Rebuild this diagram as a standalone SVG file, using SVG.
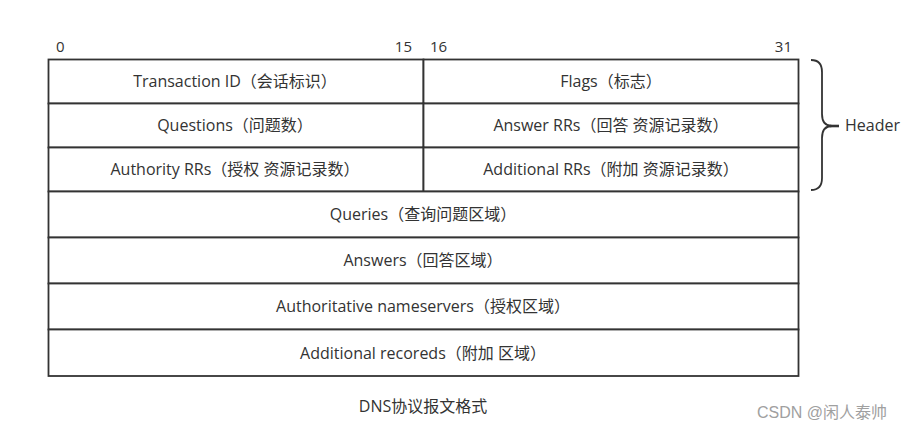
<svg xmlns="http://www.w3.org/2000/svg" width="922" height="431" viewBox="0 0 922 431">
<style>
.cell{fill:#fff;stroke:#333;stroke-width:1.8}
.t{font-family:"Open Sans","Noto Sans CJK SC",sans-serif;font-size:16px;fill:#333;text-anchor:middle}
.n{font-family:"Open Sans","Noto Sans CJK SC",sans-serif;font-size:15px;fill:#333}
.w{font-family:"Liberation Sans","Noto Sans CJK SC",sans-serif;font-size:16px;fill:#a0a0a0}
</style>
<rect width="922" height="431" fill="#fff"/>
<g id="bits">
<text class="n" x="56" y="52">0</text>
<text class="n" x="412" y="52" text-anchor="end">15</text>
<text class="n" x="430" y="52">16</text>
<text class="n" x="792" y="52" text-anchor="end">31</text>
</g>
<g id="transaction-id"><rect class="cell" x="48.5" y="59.5" width="375" height="44"/><text class="t" x="235" y="87">Transaction ID（会话标识）</text></g>
<g id="flags"><rect class="cell" x="423.5" y="59.5" width="375" height="44"/><text class="t" x="611" y="87">Flags（标志）</text></g>
<g id="questions"><rect class="cell" x="48.5" y="103.5" width="375" height="44"/><text class="t" x="235" y="131">Questions（问题数）</text></g>
<g id="answer-rrs"><rect class="cell" x="423.5" y="103.5" width="375" height="44"/><text class="t" x="611" y="131">Answer RRs（回答 资源记录数）</text></g>
<g id="authority-rrs"><rect class="cell" x="48.5" y="147.5" width="375" height="44"/><text class="t" x="235" y="175">Authority RRs（授权 资源记录数）</text></g>
<g id="additional-rrs"><rect class="cell" x="423.5" y="147.5" width="375" height="44"/><text class="t" x="611" y="175">Additional RRs（附加 资源记录数）</text></g>
<g id="queries"><rect class="cell" x="48.5" y="191.5" width="750" height="46"/><text class="t" x="423" y="220">Queries（查询问题区域）</text></g>
<g id="answers"><rect class="cell" x="48.5" y="237.5" width="750" height="46"/><text class="t" x="423" y="266">Answers（回答区域）</text></g>
<g id="authoritative"><rect class="cell" x="48.5" y="283.5" width="750" height="46"/><text class="t" x="423" y="312">Authoritative nameservers（授权区域）</text></g>
<g id="additional"><rect class="cell" x="48.5" y="329.5" width="750" height="46.5"/><text class="t" x="423" y="358.5">Additional recoreds（附加 区域）</text></g>
<g id="connectors">
<path d="M811,60 Q822,60 822,72 L822,114 Q822,126 832,126 M832,126 Q822,126 822,138 L822,178 Q822,190 811,190" fill="none" stroke="#333" stroke-width="1.8"/>
<line x1="830" y1="126" x2="839" y2="126" stroke="#333" stroke-width="2.6"/>
</g>
<g id="header"><text class="n" x="845" y="131" style="font-size:16px">Header</text></g>
<g id="caption"><text class="t" x="423" y="412">DNS协议报文格式</text></g>
<g id="watermark"><text class="w" x="757" y="418">CSDN @闲人泰帅</text></g>
</svg>
